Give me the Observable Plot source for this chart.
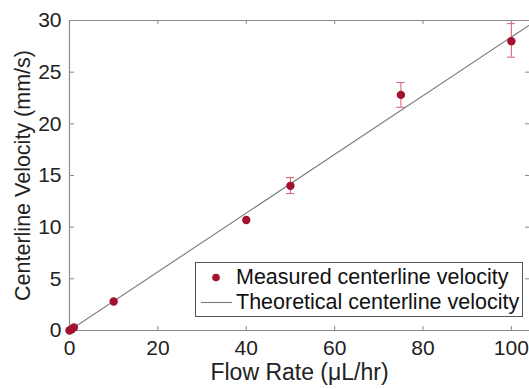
<!DOCTYPE html>
<html>
<head>
<meta charset="utf-8">
<script src="https://cdn.jsdelivr.net/npm/d3@7"></script>
<script src="https://cdn.jsdelivr.net/npm/@observablehq/plot@0.6"></script>
<style>
  html, body { margin: 0; padding: 0; background: #fff; }
  #wrap { position: relative; width: 529px; height: 389px; overflow: hidden; font-family: "Liberation Sans", Arial, Helvetica, sans-serif; }
  #legend { position: absolute; left: 195px; top: 262px; width: 328px; height: 55px; border: 1px solid #555; background: #fff; box-sizing: border-box; font-size: 21.5px; color: #111; }
  .row { position: absolute; left: 0; height: 25px; line-height: 25px; white-space: nowrap; }
  .sw { position: absolute; left: 4px; width: 32px; height: 25px; }
  .lbl { position: absolute; left: 40px; }
</style>
</head>
<body>
<div id="wrap"></div>
<script>
// Data
const flowRate = [0, 0.5, 1, 10, 40, 50, 75, 100];
const velocity = [0.0, 0.12, 0.3, 2.8, 10.7, 14.0, 22.8, 28.0];
const errLow   = [null, null, null, null, null, 13.25, 21.6, 26.45];
const errHigh  = [null, null, null, null, null, 14.8, 24.0, 29.7];
const theoryX = [0, 110];
const theorySlope = 0.284;
const xTicks = [0, 20, 40, 60, 80, 100];
const yTicks = [0, 5, 10, 15, 20, 25, 30];

const measured = flowRate.map((x, i) => ({x, y: velocity[i], lo: errLow[i], hi: errHigh[i]}));
const errs = measured.filter(d => d.lo != null);
const theory = theoryX.map(x => ({x, y: x * theorySlope}));

const red = "#a5122e";
const errColor = "#d9687f";
const axisColor = "#8a8a8a";
const font = "'Liberation Sans', Arial, Helvetica, sans-serif";

const plot = Plot.plot({
  width: 529,
  height: 389,
  marginTop: 20,
  marginBottom: 59,
  marginLeft: 69,
  marginRight: 0,
  style: {fontFamily: font, fontSize: "21px", color: "#222", background: "#fff"},
  x: {domain: [0, 104.1], ticks: xTicks},
  y: {domain: [0, 30], ticks: yTicks},
  marks: [
    // frame
    Plot.ruleX([0], {stroke: axisColor, strokeWidth: 1.2}),
    Plot.ruleY([0, 30], {stroke: axisColor, strokeWidth: 1.2}),
    // inward ticks
    Plot.tickX(xTicks, {stroke: axisColor, insetTop: 306}),
    Plot.tickX(xTicks, {stroke: axisColor, insetBottom: 306}),
    Plot.tickY(yTicks, {stroke: axisColor, insetRight: 455}),
    Plot.tickY(yTicks, {stroke: axisColor, insetLeft: 456}),
    // theoretical line
    Plot.line(theory, {x: "x", y: "y", stroke: "#7a7a7a", strokeWidth: 1.1, clip: true}),
    // error bars
    Plot.ruleX(errs, {x: "x", y1: "lo", y2: "hi", stroke: errColor, strokeWidth: 1.1}),
    Plot.ruleY(errs, {y: "lo", x1: "x", x2: "x", insetLeft: -4, insetRight: -4, stroke: errColor, strokeWidth: 1.1}),
    Plot.ruleY(errs, {y: "hi", x1: "x", x2: "x", insetLeft: -4, insetRight: -4, stroke: errColor, strokeWidth: 1.1}),
    // measured points
    Plot.dot(measured, {x: "x", y: "y", r: 4.2, fill: red, stroke: "none"}),
    // axes
    Plot.axisX(xTicks, {tickSize: 0, tickPadding: 10, fontSize: 21, label: null, fill: "#222"}),
    Plot.axisY(yTicks, {tickSize: 0, tickPadding: 8, fontSize: 21, label: null, fill: "#222"}),
    Plot.text(["Flow Rate (\u03bcL/hr)"], {frameAnchor: "bottom", dy: 49, fontSize: 23, fill: "#222", textAnchor: "middle"}),
    Plot.text(["Centerline Velocity (mm/s)"], {frameAnchor: "left", dx: -46, rotate: -90, fontSize: 21.5, fill: "#222", textAnchor: "middle"})
  ]
});

const wrap = document.getElementById("wrap");
wrap.appendChild(plot);

const legend = document.createElement("div");
legend.id = "legend";
legend.innerHTML = `
  <div class="row" style="top:2px"><svg class="sw" width="32" height="25"><circle cx="16" cy="12.5" r="3.8" fill="${red}"/></svg><span class="lbl">Measured centerline velocity</span></div>
  <div class="row" style="top:27px"><svg class="sw" width="32" height="25"><line x1="1" x2="33" y1="12.5" y2="12.5" stroke="#7a7a7a" stroke-width="1.1"/></svg><span class="lbl">Theoretical centerline velocity</span></div>`;
wrap.appendChild(legend);
</script>
</body>
</html>
